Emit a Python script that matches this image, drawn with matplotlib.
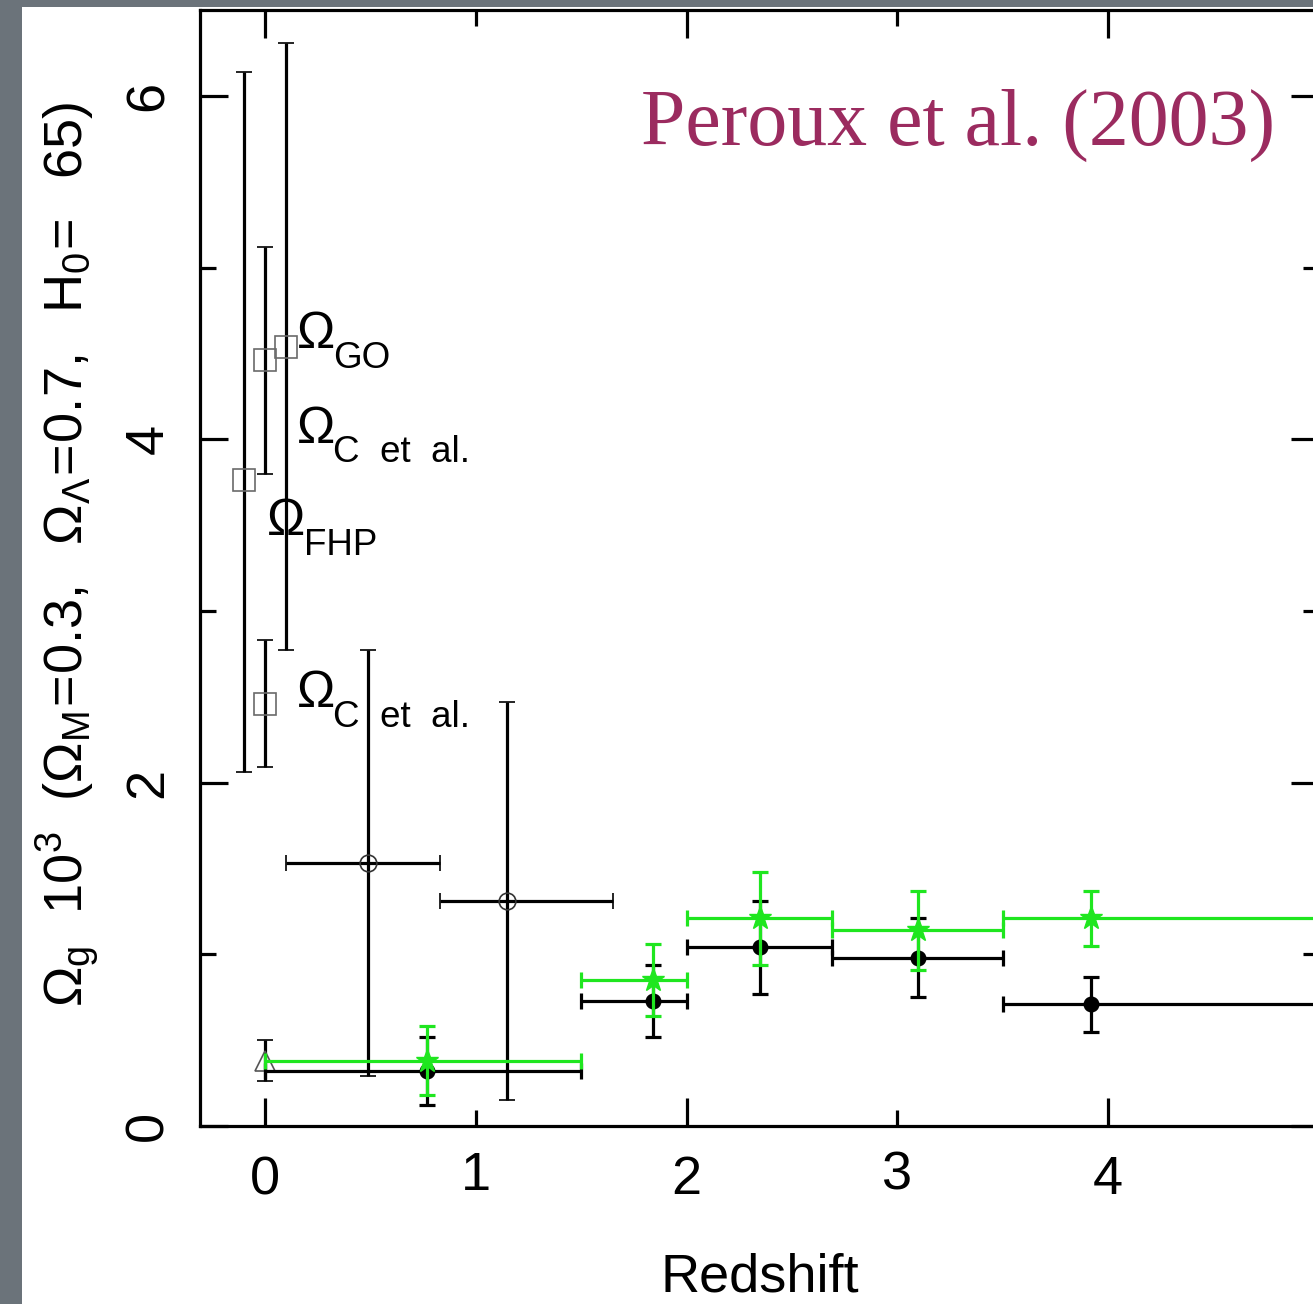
import matplotlib
matplotlib.use("Agg")
import matplotlib.pyplot as plt
from matplotlib.patches import Rectangle
from matplotlib.transforms import offset_copy
from matplotlib.ticker import FixedLocator, FixedFormatter, NullFormatter

plt.rcParams["font.family"] = ["Liberation Sans", "DejaVu Sans"]
plt.rcParams["mathtext.fontset"] = "custom"
plt.rcParams["mathtext.rm"] = "Liberation Sans"
plt.rcParams["mathtext.it"] = "Liberation Sans:italic"
plt.rcParams["mathtext.bf"] = "Liberation Sans:bold"
plt.rcParams["mathtext.sf"] = "Liberation Sans"

# ---- local (z ~ 0) estimates: open squares ----
sq_z = [-0.10, 0.00, 0.10, 0.00]
sq_om = [3.76, 4.46, 4.54, 2.46]
sq_err_lo = [1.70, 0.66, 1.77, 0.37]
sq_err_hi = [2.38, 0.66, 1.77, 0.37]

# ---- z = 0 triangle ----
tri_z = [0.0]
tri_om = [0.38]
tri_err = [0.12]

# ---- low-z open circles ----
oc_z = [0.49, 1.15]
oc_om = [1.53, 1.31]
oc_err = [1.24, 1.16]
oc_bin_lo = [0.10, 0.83]
oc_bin_hi = [0.83, 1.65]

# ---- redshift bins (DLA and total HI) ----
bin_lo = [0.0, 1.5, 2.0, 2.69, 3.5]
bin_hi = [1.5, 2.0, 2.69, 3.5, 5.0]
bin_z = [0.77, 1.84, 2.35, 3.10, 3.92]
dla_om = [0.32, 0.73, 1.04, 0.98, 0.71]
dla_err = [0.20, 0.21, 0.27, 0.23, 0.16]
tot_om = [0.38, 0.85, 1.21, 1.14, 1.21]
tot_err = [0.20, 0.21, 0.27, 0.23, 0.16]

# ---- labels next to the local estimates ----
lab_sub = ["GO", "C  et  al.", "FHP", "C  et  al."]
lab_x = [0.15, 0.15, 0.01, 0.15]
lab_y = [4.53, 3.98, 3.44, 2.44]

x_major = [0, 2, 4]
x_minor = [1, 3, 5]
x_minor_labels = ["1", "3", ""]
y_major = [0, 2, 4, 6]
y_minor = [1, 3, 5]

W, H = 1313, 1304
fig = plt.figure(figsize=(W / 100, H / 100), dpi=100)
fig.patch.set_facecolor("#6b737a")
fig.add_artist(Rectangle((22 / W, 0), 1, 1 - 7 / H, transform=fig.transFigure,
                         facecolor="white", edgecolor="none", zorder=0))

ax = fig.add_axes([200 / W, 178 / H, 1119 / W, 1116 / H])
ax.set_facecolor("white")
ax.set_xlim(-0.308, 5.0)
ax.set_ylim(0, 6.5)

lw = 2.3
cap = 6.0

def xerr_of(z, lo, hi):
    return [[zi - l for zi, l in zip(z, lo)], [h - zi for zi, h in zip(z, hi)]]

# local points
ax.errorbar(sq_z, sq_om, yerr=[sq_err_lo, sq_err_hi], fmt="s", ms=15.5, mfc="none",
            mec="#6a6a6a", mew=1.2, ecolor="black", elinewidth=lw, capsize=cap,
            capthick=lw, zorder=3)
ax.errorbar(tri_z, tri_om, yerr=tri_err, fmt="^", ms=15, mfc="none",
            mec="#555555", mew=1.2, ecolor="black", elinewidth=lw, capsize=cap,
            capthick=lw, zorder=3)
ax.errorbar(oc_z, oc_om, yerr=oc_err, xerr=xerr_of(oc_z, oc_bin_lo, oc_bin_hi),
            fmt="o", ms=12, mfc="none", mec="#333333", mew=1.2, ecolor="black",
            elinewidth=lw, capsize=cap, capthick=lw, zorder=3)

# DLA points (black) and total HI (green)
ax.errorbar(bin_z, dla_om, yerr=dla_err, xerr=xerr_of(bin_z, bin_lo, bin_hi),
            fmt="o", ms=10.5, color="black", ecolor="black", elinewidth=lw,
            capsize=cap, capthick=lw, zorder=4)
ax.errorbar(bin_z, tot_om, yerr=tot_err, xerr=xerr_of(bin_z, bin_lo, bin_hi),
            fmt="*", ms=17, color="#1fe61f", ecolor="#1fe61f", elinewidth=lw,
            capsize=cap, capthick=lw, zorder=5)

# point labels: Omega with a lowered subscript
for sub, lx, ly in zip(lab_sub, lab_x, lab_y):
    ax.text(lx, ly, "\u03A9", fontsize=37, va="baseline", ha="left")
    tr = offset_copy(ax.transData, fig=fig, x=26.5, y=-14, units="points")
    ax.text(lx, ly, sub, fontsize=26.5, va="baseline", ha="left", transform=tr)

# axes styling
for sp in ax.spines.values():
    sp.set_linewidth(lw)
ax.xaxis.set_major_locator(FixedLocator(x_major))
ax.xaxis.set_minor_locator(FixedLocator(x_minor))
ax.xaxis.set_major_formatter(FixedFormatter([str(v) for v in x_major]))
ax.xaxis.set_minor_formatter(FixedFormatter(x_minor_labels))
ax.yaxis.set_major_locator(FixedLocator(y_major))
ax.yaxis.set_minor_locator(FixedLocator(y_minor))
ax.yaxis.set_major_formatter(FixedFormatter([str(v) for v in y_major]))
ax.yaxis.set_minor_formatter(NullFormatter())

ax.tick_params(which="both", direction="in", top=True, right=True, width=lw,
               labelsize=39)
ax.tick_params(which="major", length=20)
ax.tick_params(which="minor", length=11.5)
ax.tick_params(axis="x", which="major", pad=21)
ax.tick_params(axis="x", which="minor", pad=18)
ax.tick_params(axis="y", which="major", pad=19, labelrotation=90)
for lbl in ax.get_yticklabels():
    lbl.set_va("center")

fig.text(760 / W, 1 - 1291 / H, "Redshift", fontsize=39, ha="center", va="baseline")

fig.text(83 / W, 1 - 554 / H,
         r"$\Omega_{\rm g}\ \ 10^{3}\ \ (\Omega_{\rm M}\!=\!0.3,\ \ \Omega_{\Lambda}\!=\!0.7,\ \ {\rm H}_{0}\!=\ \ 65)$",
         fontsize=39, rotation=90, rotation_mode="anchor", ha="center", va="baseline")

fig.text(641 / W, 1 - 145 / H, "Peroux et al. (2003)", fontsize=57.5,
         family="Liberation Serif", color="#9b2b5f", ha="left", va="baseline")

fig.savefig("out.png", dpi=100, facecolor=fig.get_facecolor())
